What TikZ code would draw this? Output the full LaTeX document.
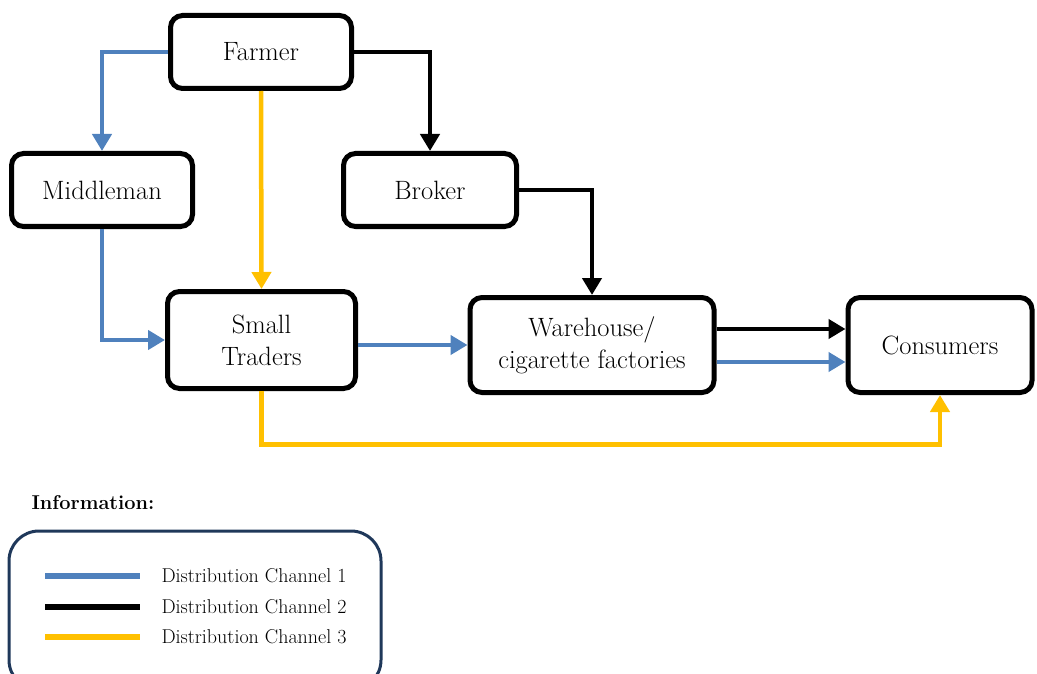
\documentclass[tikz,border=0pt]{standalone}
\usepackage{fontspec}
\usetikzlibrary{arrows.meta,positioning}
\definecolor{chanone}{RGB}{79,129,189}
\definecolor{chanthree}{RGB}{255,192,0}
\definecolor{legendframe}{RGB}{31,56,90}
\begin{document}
\begin{tikzpicture}[x=1pt,y=-1pt]
    \tikzset{
        stage/.style={draw,line width=5pt,rounded corners=12pt,align=center,inner sep=0pt,
            font=\fontsize{26.5}{32}\selectfont},
        flow/.style={line width=4.5pt,-{Triangle[length=17pt,width=19pt]}},}
    \def\legendfont{\fontsize{20}{24}\selectfont}
    \useasboundingbox (0,0) rectangle (1037,674);
    % stages of the chain
    \node[stage,minimum width=181pt,minimum height=73pt] (farmer) at (261,52) {Farmer};
    \node[stage,minimum width=181pt,minimum height=73pt] (middleman) at (102,190) {Middleman};
    \node[stage,minimum width=173pt,minimum height=73pt] (broker) at (430,190) {Broker};
    \node[stage,minimum width=188pt,minimum height=97pt] (traders) at (261.5,340) {Small\\Traders};
    \node[stage,minimum width=244pt,minimum height=95pt] (warehouse) at (592,345) {Warehouse/\\cigarette factories};
    \node[stage,minimum width=184pt,minimum height=95pt] (consumers) at (940,345) {Consumers};
    % channel 1
    \draw[flow,chanone] (farmer.west) -| (middleman.north);
    \draw[flow,chanone] (middleman.south) |- (traders.west);
    \draw[flow,chanone] (traders.east |- warehouse.west) -- (warehouse.west);
    \draw[flow,chanone] ([yshift=-17pt]warehouse.east) -- ([yshift=-17pt]consumers.west);
    % channel 2
    \draw[flow] (farmer.east) -| (broker.north);
    \draw[flow] (broker.east) -| (warehouse.north);
    \draw[flow] ([yshift=16pt]warehouse.east) -- ([yshift=16pt]consumers.west);
    % channel 3
    \draw[flow,chanthree] (farmer.south) -- (traders.north);
    \draw[flow,chanthree] (traders.south) -- ++(0,53.5) -| (consumers.south);
    % legend
    \node[anchor=west,font=\fontsize{20}{24}\selectfont\bfseries] (info) at (28,503) {Information:};
    \draw[legendframe,line width=3pt,rounded corners=30pt] (9,531) rectangle (381,690);
    \foreach \col/\y/\n in {chanone/576/1,black/607/2,chanthree/637/3}{
        \draw[\col,line width=6pt] (45,\y) -- (140,\y);
        \node[font=\legendfont] (key\n) at (254,\y) {Distribution Channel \n};
    }
\end{tikzpicture}
\end{document}
